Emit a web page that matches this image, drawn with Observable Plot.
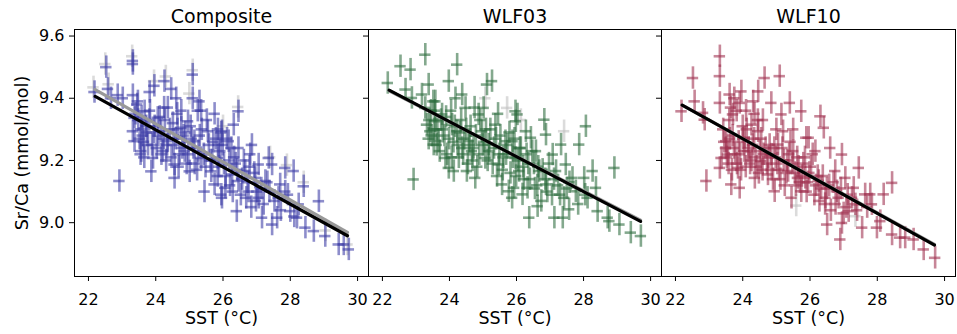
<!DOCTYPE html>
<html>
<head>
<meta charset="utf-8">
<script src="https://cdn.jsdelivr.net/npm/d3@7"></script>
<script src="https://cdn.jsdelivr.net/npm/@observablehq/plot@0.6"></script>
<style>
  html, body { margin: 0; padding: 0; background: #fff; }
  #chart { position: relative; width: 957px; height: 334px; font-family: "DejaVu Sans", sans-serif; }
  #chart svg { position: absolute; top: 0; }
</style>
</head>
<body>
<div id="chart"></div>
<script>
// ---- data ----
const panelTitles = ["Composite", "WLF03", "WLF10"];
const xTicks = [22, 24, 26, 28, 30];
const yTicks = [9.0, 9.2, 9.4, 9.6];
const xLabel = "SST (°C)";
const yLabel = "Sr/Ca (mmol/mol)";
const seriesColors = ["#3b3ba6", "#2b6a3c", "#9e2f4d"];

const compositePts = [
  [22.18,9.42],[22.53,9.50],[23.32,9.52],[23.32,9.51],[25.10,9.476],[22.92,9.134],[22.58,9.43],[22.87,9.41],
  [22.67,9.40],[23.02,9.40],[23.32,9.41],[23.96,9.44],[24.26,9.455],[24.46,9.43],[24.61,9.40],[24.76,9.36],
  [25.10,9.40],[25.30,9.39],[25.35,9.36],[25.75,9.35],[25.95,9.29],[23.37,9.337],[23.32,9.294],[23.37,9.262],
  [23.57,9.30],[23.67,9.358],[23.77,9.25],[23.92,9.208],[23.87,9.165],[24.16,9.294],[24.21,9.23],[24.36,9.262],
  [24.56,9.187],[24.56,9.144],[24.76,9.305],[24.86,9.23],[25.01,9.165],[25.15,9.262],[25.35,9.208],[25.45,9.10],
  [25.65,9.165],[25.75,9.123],[25.85,9.208],[25.95,9.09],[24.06,9.337],[23.57,9.23],[23.47,9.39],[24.36,9.37],
  [24.96,9.326],[25.55,9.294],[23.82,9.42],
  [26.46,9.358],[26.32,9.315],[25.97,9.294],[25.87,9.25],[26.17,9.262],[26.46,9.24],[26.86,9.25],[26.81,9.22],
  [26.66,9.166],[26.46,9.134],[26.41,9.037],[26.07,9.112],[25.97,9.08],[27.06,9.08],[27.16,9.016],[27.36,9.208],
  [27.46,9.187],[27.46,8.994],[27.61,9.016],[27.70,9.123],[27.85,9.176],[28.00,9.037],[28.10,9.166],[28.20,9.016],
  [28.40,9.117],[28.45,8.984],[28.70,8.973],[28.85,9.069],[29.04,8.957],[29.44,8.93],[29.74,8.914],[29.59,8.93],
  [27.26,9.134],[26.96,9.144],[27.85,9.10],[28.25,9.059],[26.76,9.10],[26.27,9.155],[27.06,9.187],
  [23.48,9.33],[23.61,9.28],[23.72,9.31],[23.83,9.36],[23.94,9.29],[24.03,9.24],[24.12,9.34],[24.24,9.27],
  [24.31,9.20],[24.42,9.30],[24.53,9.25],[24.64,9.35],[24.71,9.22],[24.83,9.28],[24.92,9.19],[25.04,9.31],
  [25.12,9.24],[25.23,9.17],[25.31,9.28],[25.43,9.22],[25.52,9.33],[25.63,9.20],[25.71,9.26],[25.84,9.15],
  [25.92,9.23],[26.03,9.19],[26.12,9.27],[26.21,9.12],[26.33,9.21],[26.42,9.17],[26.53,9.09],[26.62,9.20],
  [26.73,9.13],[26.84,9.05],[26.93,9.16],[27.02,9.10],[27.21,9.06],[27.32,9.13],[27.53,9.07],[27.72,9.04],
  [27.93,9.09],[28.12,9.02],[23.45,9.38],[23.55,9.22],[23.65,9.26],[24.25,9.37],[24.65,9.30],[25.25,9.36],
  [25.85,9.30],[26.25,9.24],
  [23.40,9.35],[23.52,9.27],[23.58,9.34],[23.66,9.21],[23.74,9.29],[23.81,9.33],[23.89,9.25],[23.97,9.31],
  [24.08,9.28],[24.17,9.22],[24.27,9.33],[24.34,9.25],[24.47,9.21],[24.51,9.32],[24.59,9.27],[24.68,9.18],
  [24.79,9.24],[24.88,9.29],[24.97,9.22],[25.07,9.27],[25.16,9.19],[25.27,9.23],[25.37,9.30],[25.48,9.18],
  [25.58,9.25],[25.68,9.20],[25.79,9.27],[25.88,9.18],[25.99,9.25],[26.08,9.15],[26.19,9.20],[26.29,9.10],
  [26.38,9.19],[26.57,9.14],[26.69,9.08],[26.79,9.18],[26.98,9.07],[27.14,9.11],[27.38,9.10],[27.65,9.08]
];
const compositeGrey = [
  [22.15,9.435],[22.5,9.51],[23.3,9.535],[25.1,9.49],[22.6,9.445],[23.95,9.455],[24.3,9.47],[26.45,9.372],
  [27.4,9.21],[28.4,9.13],[29.05,8.975],[29.7,8.93],[25.0,9.415],[26.0,9.31],[27.9,9.185]
];

const wlf03Pts = [
  [22.16,9.449],[22.54,9.503],[22.84,9.492],[23.28,9.540],[24.23,9.508],[23.98,9.455],[25.27,9.455],[25.12,9.444],
  [22.93,9.139],[22.69,9.428],[22.88,9.401],[23.18,9.412],[23.38,9.444],[23.28,9.369],[23.33,9.315],[23.43,9.294],
  [23.58,9.39],[23.68,9.262],[23.78,9.348],[23.88,9.208],[23.98,9.176],[24.13,9.166],[24.23,9.294],[24.38,9.412],
  [24.48,9.369],[24.52,9.166],[24.67,9.23],[24.77,9.144],[24.87,9.348],[24.97,9.294],[25.02,9.369],[25.07,9.208],
  [25.17,9.251],[25.37,9.315],[25.47,9.187],[25.57,9.123],[25.67,9.262],[25.77,9.101],[25.87,9.08],[25.97,9.208],
  [25.97,9.358],[23.58,9.326],[24.08,9.315],[24.58,9.262],[23.53,9.251],[24.38,9.24],
  [25.98,9.326],[26.03,9.348],[25.88,9.262],[26.28,9.294],[26.43,9.273],[26.58,9.23],[26.83,9.331],[26.88,9.283],
  [27.08,9.219],[27.33,9.251],[27.47,9.187],[27.87,9.251],[28.07,9.31],[28.92,9.176],[26.08,9.166],[26.33,9.112],
  [26.38,9.016],[26.63,9.053],[26.88,9.123],[27.13,9.016],[27.38,9.016],[27.57,9.043],[27.67,9.144],[27.77,9.101],
  [28.02,9.144],[28.12,9.08],[28.27,9.166],[28.37,9.112],[28.42,9.037],[28.72,9.016],[28.77,9.005],[29.07,8.994],
  [29.41,8.968],[29.71,8.957],[27.18,9.166],[26.68,9.166],[25.93,9.112],[26.18,9.091],
  [23.45,9.36],[23.55,9.30],[23.62,9.25],[23.75,9.33],[23.85,9.28],[23.93,9.22],[24.05,9.36],[24.12,9.26],
  [24.28,9.21],[24.35,9.33],[24.44,9.27],[24.55,9.19],[24.63,9.31],[24.72,9.24],[24.83,9.18],[24.92,9.33],
  [25.03,9.26],[25.14,9.20],[25.22,9.30],[25.33,9.24],[25.42,9.15],[25.52,9.28],[25.61,9.21],[25.73,9.25],
  [25.82,9.16],[25.94,9.27],[26.05,9.20],[26.13,9.24],[26.22,9.14],[26.35,9.19],[26.47,9.23],[26.55,9.11],
  [26.65,9.18],[26.74,9.07],[26.86,9.14],[26.97,9.19],[27.06,9.09],[27.24,9.12],[27.42,9.08],[27.58,9.13],
  [27.84,9.06],[28.05,9.09],[23.38,9.27],[23.52,9.39],[24.18,9.40],[24.75,9.37],[25.45,9.35],
  [23.40,9.33],[23.47,9.28],[23.56,9.36],[23.64,9.30],[23.71,9.23],[23.80,9.30],[23.90,9.34],[23.99,9.27],
  [24.07,9.21],[24.16,9.31],[24.24,9.25],[24.32,9.29],[24.41,9.22],[24.50,9.30],[24.60,9.25],[24.69,9.20],
  [24.79,9.28],[24.89,9.22],[24.99,9.25],[25.09,9.30],[25.19,9.23],[25.29,9.19],[25.39,9.27],[25.49,9.22],
  [25.59,9.17],[25.69,9.22],[25.79,9.29],[25.89,9.21],[25.99,9.15],[26.10,9.24],[26.20,9.18],[26.30,9.22],
  [26.40,9.14],[26.52,9.19],[26.62,9.12],[26.78,9.17],[26.92,9.10],[27.12,9.14],[27.30,9.09],[27.50,9.11]
];
const wlf03Grey = [[25.72,9.369],[25.07,9.40],[27.42,9.294],[26.13,9.33]];

const wlf10Pts = [
  [22.18,9.358],[22.52,9.465],[23.32,9.535],[23.32,9.471],[22.57,9.39],[22.82,9.353],[22.87,9.331],[23.32,9.385],
  [23.61,9.412],[23.96,9.422],[23.91,9.385],[24.31,9.39],[24.46,9.422],[24.65,9.465],[25.10,9.471],[24.85,9.385],
  [25.15,9.348],[25.40,9.385],[25.74,9.358],[25.89,9.273],[22.92,9.134],[23.32,9.176],[23.37,9.208],[23.51,9.262],
  [23.66,9.123],[23.91,9.112],[23.86,9.176],[24.16,9.23],[24.26,9.315],[24.46,9.294],[24.55,9.198],[24.75,9.155],
  [24.95,9.101],[25.05,9.251],[25.20,9.294],[25.35,9.166],[25.50,9.23],[25.64,9.144],[25.74,9.101],[25.45,9.08],
  [23.71,9.348],[24.06,9.273],[24.85,9.219],[23.56,9.219],[24.36,9.144],
  [26.31,9.342],[26.41,9.305],[25.96,9.273],[26.16,9.23],[26.60,9.24],[26.95,9.219],[27.45,9.176],[28.44,9.128],
  [25.86,9.144],[26.26,9.134],[26.46,9.08],[26.75,9.166],[26.80,9.101],[27.05,9.144],[27.15,9.037],[26.95,8.999],
  [26.90,8.946],[26.51,8.994],[27.30,9.112],[27.55,8.984],[27.64,9.091],[27.79,9.091],[27.84,9.059],[27.99,8.984],
  [28.09,9.005],[28.19,9.091],[28.44,8.962],[28.68,8.952],[28.83,8.952],[29.08,8.946],[29.38,8.914],[29.72,8.887],
  [27.35,9.059],
  [23.42,9.30],[23.50,9.24],[23.58,9.19],[23.70,9.28],[23.78,9.22],[23.88,9.26],[23.95,9.17],[24.05,9.23],
  [24.12,9.30],[24.22,9.19],[24.30,9.25],[24.38,9.21],[24.48,9.16],[24.55,9.27],[24.62,9.22],[24.72,9.19],
  [24.80,9.25],[24.90,9.14],[24.98,9.21],[25.08,9.17],[25.18,9.24],[25.25,9.12],[25.32,9.20],[25.42,9.26],
  [25.55,9.16],[25.62,9.21],[25.70,9.13],[25.80,9.19],[25.90,9.10],[25.98,9.16],[26.08,9.22],[26.18,9.12],
  [26.28,9.07],[26.38,9.15],[26.50,9.11],[26.62,9.04],[26.70,9.13],[26.85,9.08],[27.00,9.03],[27.12,9.09],
  [27.40,9.04],[27.70,9.05],[23.60,9.33],[24.00,9.31],[24.45,9.33],[25.00,9.30],[25.50,9.30],
  [23.45,9.26],[23.53,9.21],[23.62,9.27],[23.68,9.17],[23.74,9.24],[23.83,9.19],[23.92,9.22],[24.01,9.27],
  [24.09,9.18],[24.18,9.24],[24.26,9.20],[24.34,9.27],[24.42,9.18],[24.51,9.23],[24.59,9.17],[24.68,9.24],
  [24.76,9.21],[24.86,9.17],[24.94,9.24],[25.03,9.19],[25.12,9.14],[25.22,9.20],[25.30,9.16],[25.38,9.22],
  [25.48,9.19],[25.58,9.12],[25.66,9.18],[25.76,9.15],[25.85,9.21],[25.94,9.13],[26.03,9.18],[26.13,9.09],
  [26.23,9.15],[26.33,9.11],[26.45,9.06],[26.57,9.12],[26.76,9.06],[26.92,9.11],[27.08,9.05],[27.25,9.08],
  [23.65,9.37],[23.75,9.40],[23.82,9.36],[24.10,9.36],[24.35,9.35],[24.60,9.33]
];
const wlf10Grey = [[25.59,9.055],[27.35,9.021]];

// regression fit end points [x, y]
const compositeFit = [[22.2,9.406],[29.7,8.958]];
const compositeFitGrey = [[22.2,9.428],[29.7,8.969]];
const wlf03Fit = [[22.2,9.426],[29.7,9.004]];
const wlf03FitGrey = [[22.2,9.424],[29.7,9.008]];
const wlf10Fit = [[22.2,9.378],[29.7,8.928]];
const wlf10FitGrey = [[22.2,9.378],[29.7,8.930]];

const xErr = 0.17, yErr = 0.036;

const panels = [
  {title: panelTitles[0], pts: compositePts, grey: compositeGrey, fit: compositeFit, fitGrey: compositeFitGrey, color: seriesColors[0]},
  {title: panelTitles[1], pts: wlf03Pts, grey: wlf03Grey, fit: wlf03Fit, fitGrey: wlf03FitGrey, color: seriesColors[1]},
  {title: panelTitles[2], pts: wlf10Pts, grey: wlf10Grey, fit: wlf10Fit, fitGrey: wlf10FitGrey, color: seriesColors[2]}
];

// layout: [svg left, svg width, marginLeft, marginRight]
const layout = [[0, 369, 74, 1], [348, 314, 20, 1], [641, 316, 20, 2]];

const container = document.getElementById("chart");

panels.forEach((p, i) => {
  const [left, width, mL, mR] = layout[i];
  const toObj = a => a.map(([x, y]) => ({x, y}));
  const pts = toObj(p.pts), grey = toObj(p.grey);
  const fit = toObj(p.fit), fitGrey = toObj(p.fitGrey);
  const errMarks = (data, color, op) => [
    Plot.ruleY(data, {y: "y", x1: d => d.x - xErr, x2: d => d.x + xErr, stroke: color, strokeWidth: 2.6, strokeOpacity: op}),
    Plot.ruleX(data, {x: "x", y1: d => d.y - yErr, y2: d => d.y + yErr, stroke: color, strokeWidth: 2.6, strokeOpacity: op})
  ];
  const marks = [
    ...errMarks(grey, "#bdbdbd", 0.55),
    ...errMarks(pts, p.color, 0.58),
    Plot.line(fitGrey, {x: "x", y: "y", stroke: "#999", strokeWidth: 3.2}),
    Plot.line(fit, {x: "x", y: "y", stroke: "#000", strokeWidth: 3.2}),
    Plot.frame({stroke: "#000", strokeWidth: 1}),
    Plot.axisX({ticks: xTicks, tickFormat: d => String(d), tickSize: 5, tickPadding: 12, fontSize: 16, label: null}),
    Plot.axisY({ticks: yTicks, tickFormat: i === 0 ? d3.format(".1f") : () => "", tickSize: 5, tickPadding: 5, fontSize: 16, label: null}),
    Plot.text([p.title], {frameAnchor: "top", lineAnchor: "middle", dy: -13, fontSize: 19, fill: "#000"}),
    Plot.text([xLabel], {frameAnchor: "bottom", lineAnchor: "middle", dy: 42, fontSize: 17.5, fill: "#000"})
  ];
  if (i === 0) {
    marks.push(Plot.text([yLabel], {frameAnchor: "left", textAnchor: "middle", lineAnchor: "middle", dx: -52, rotate: -90, fontSize: 17.5, fill: "#000"}));
  }
  const svg = Plot.plot({
    width, height: 334,
    marginTop: 29, marginBottom: 58, marginLeft: mL, marginRight: mR,
    x: {domain: [21.585, 30.325]},
    y: {domain: [8.827, 9.621]},
    style: {background: "transparent", fontFamily: "DejaVu Sans, sans-serif", color: "#000", overflow: "visible"},
    marks
  });
  svg.style.left = left + "px";
  container.appendChild(svg);
});
</script>
</body>
</html>
